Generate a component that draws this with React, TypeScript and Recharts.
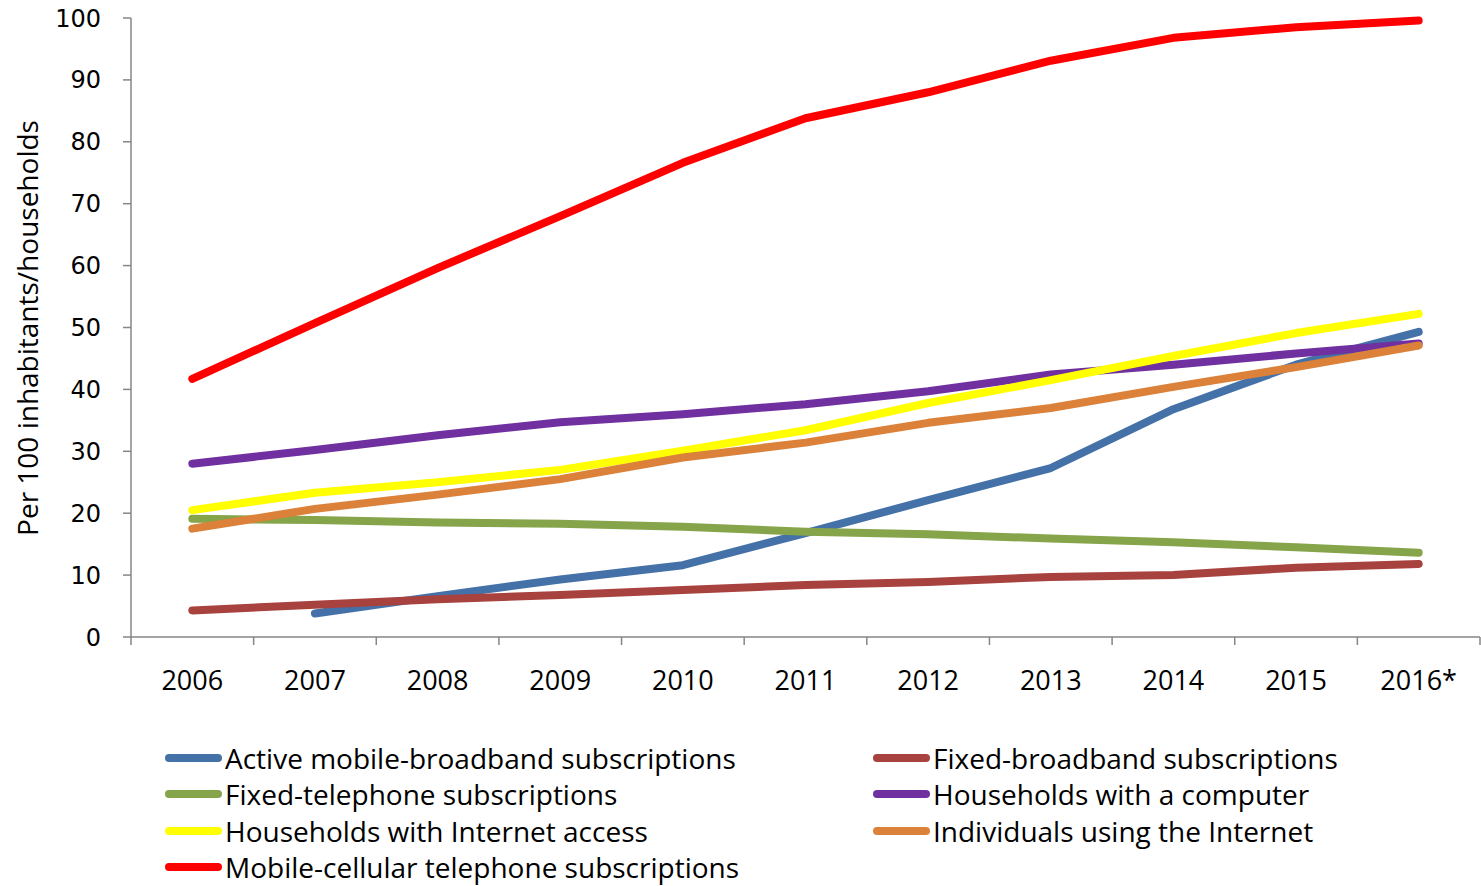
import { LineChart, Line, XAxis, YAxis } from 'recharts';

const years = ['2006', '2007', '2008', '2009', '2010', '2011', '2012', '2013', '2014', '2015', '2016*'];

const mobileBroadband = [null, 3.8, 6.6, 9.3, 11.6, 16.8, 22.1, 27.3, 36.8, 44.0, 49.3];
const fixedBroadband = [4.3, 5.2, 6.1, 6.8, 7.6, 8.4, 8.9, 9.7, 10.0, 11.2, 11.8];
const fixedTelephone = [19.1, 18.9, 18.5, 18.3, 17.8, 17.0, 16.6, 15.9, 15.3, 14.5, 13.6];
const householdsComputer = [28.0, 30.2, 32.6, 34.7, 36.0, 37.6, 39.7, 42.4, 44.0, 45.8, 47.4];
const householdsInternet = [20.5, 23.3, 25.0, 27.0, 30.1, 33.4, 37.8, 41.5, 45.4, 49.1, 52.2];
const individualsInternet = [17.5, 20.7, 23.0, 25.5, 29.0, 31.4, 34.6, 37.0, 40.4, 43.6, 47.1];
const mobileCellular = [41.7, 50.7, 59.6, 68.0, 76.6, 83.8, 88.0, 93.1, 96.8, 98.5, 99.6];

const yTicks = [0, 10, 20, 30, 40, 50, 60, 70, 80, 90, 100];

const series = [
  { key: 'mb', name: 'Active mobile-broadband subscriptions', color: '#4471A7', values: mobileBroadband },
  { key: 'fb', name: 'Fixed-broadband subscriptions', color: '#A8423F', values: fixedBroadband },
  { key: 'ft', name: 'Fixed-telephone subscriptions', color: '#86A44A', values: fixedTelephone },
  { key: 'hc', name: 'Households with a computer', color: '#7030A0', values: householdsComputer },
  { key: 'hi', name: 'Households with Internet access', color: '#FFFF00', values: householdsInternet },
  { key: 'ii', name: 'Individuals using the Internet', color: '#DC8139', values: individualsInternet },
  { key: 'mc', name: 'Mobile-cellular telephone subscriptions', color: '#FF0000', values: mobileCellular },
];

const data = years.map((year, i) => {
  const row: Record<string, string | number | null> = { year };
  series.forEach((s) => {
    row[s.key] = s.values[i];
  });
  return row;
});

const AXIS_GREY = '#868686';
const HALF_BAND = 1349 / 11 / 2;
const textFont = '"Open Sans", sans-serif';

function YearTick(props: any) {
  const { x, y, payload, index } = props;
  const last = index === years.length - 1;
  return (
    <g>
      <line x1={x - HALF_BAND} x2={x - HALF_BAND} y1={y} y2={y + 8} stroke={AXIS_GREY} strokeWidth={1.5} />
      {last && <line x1={x + HALF_BAND} x2={x + HALF_BAND} y1={y} y2={y + 8} stroke={AXIS_GREY} strokeWidth={1.5} />}
      <text x={x} y={y + 42} textAnchor="middle" dominantBaseline="central" fontFamily={textFont} fontSize={27} fill="#000">
        {payload.value}
      </text>
    </g>
  );
}

function YTitle() {
  return (
    <text
      x={27}
      y={328}
      transform="rotate(-90, 27, 328)"
      textAnchor="middle"
      dominantBaseline="central"
      fontFamily={textFont}
      fontSize={28}
      fill="#000"
    >
      Per 100 inhabitants/households
    </text>
  );
}

export default function App() {
  const rows = [];
  for (let i = 0; i < series.length; i += 2) rows.push(series.slice(i, i + 2));

  return (
    <div style={{ position: 'absolute', left: 0, top: 0, width: 1481, height: 886, background: '#fff' }}>
      <LineChart width={1481} height={700} data={data} margin={{ top: 18, right: 1, left: 0, bottom: 13 }}>
        <XAxis
          dataKey="year"
          height={50}
          padding={{ left: HALF_BAND, right: HALF_BAND }}
          tickSize={0}
          tickMargin={0}
          tick={<YearTick />}
          interval={0}
          axisLine={{ stroke: AXIS_GREY, strokeWidth: 1.5 }}
        />
        <YAxis
          width={131}
          domain={[0, 100]}
          ticks={yTicks}
          tickSize={8}
          tickMargin={22}
          interval={0}
          axisLine={{ stroke: AXIS_GREY, strokeWidth: 1.5 }}
          tickLine={{ stroke: AXIS_GREY, strokeWidth: 1.5 }}
          tick={{ fontFamily: 'DejaVu Sans', fontSize: 24, fill: '#000' }}
          label={<YTitle />}
        />
        {series.map((s) => (
          <Line
            key={s.key}
            dataKey={s.key}
            name={s.name}
            stroke={s.color}
            strokeWidth={8}
            strokeLinecap="round"
            strokeLinejoin="round"
            dot={false}
            activeDot={false}
            isAnimationActive={false}
          />
        ))}
      </LineChart>
      <div style={{ position: 'absolute', left: 0, top: 740, width: 1481 }}>
        {rows.map((row, r) => (
          <div key={r} style={{ position: 'relative', height: 36.3 }}>
            {row.map((s, c) => (
              <div
                key={s.key}
                style={{
                  position: 'absolute',
                  left: c === 0 ? 163 : 871,
                  top: 0,
                  height: 36,
                  display: 'flex',
                  alignItems: 'center',
                  whiteSpace: 'nowrap',
                }}
              >
                <svg width={62} height={12} style={{ display: 'block' }}>
                  <line x1={6} x2={55} y1={6} y2={6} stroke={s.color} strokeWidth={8} strokeLinecap="round" />
                </svg>
                <span style={{ fontFamily: textFont, fontSize: 28, color: '#000', lineHeight: '36px' }}>{s.name}</span>
              </div>
            ))}
          </div>
        ))}
      </div>
    </div>
  );
}
